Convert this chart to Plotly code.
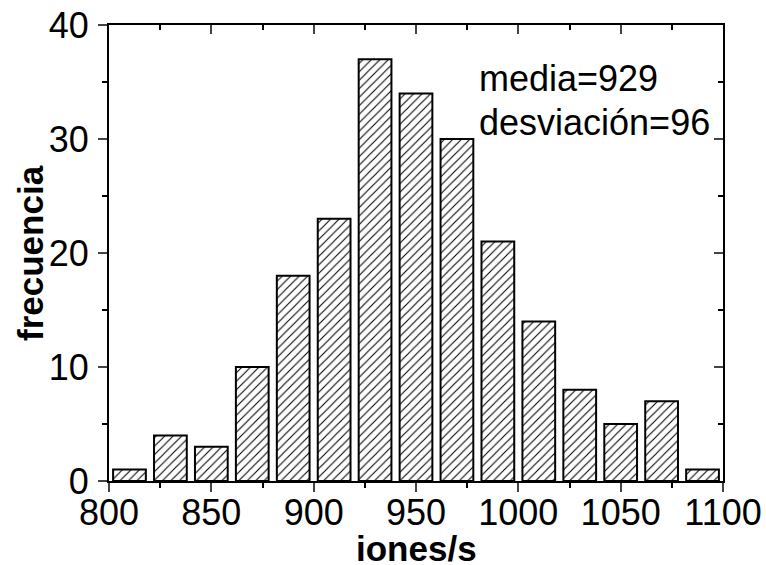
import plotly.graph_objects as go

bin_centers = [810, 830, 850, 870, 890, 910, 930, 950, 970, 990, 1010, 1030, 1050, 1070, 1090]
frecuencia = [1, 4, 3, 10, 18, 23, 37, 34, 30, 21, 14, 8, 5, 7, 1]
x_ticks = [800, 850, 900, 950, 1000, 1050, 1100]
y_ticks = [0, 10, 20, 30, 40]

FONT = "Liberation Sans, Arial, sans-serif"

fig = go.Figure()
fig.add_trace(go.Bar(
    x=bin_centers, y=frecuencia, width=16,
    marker=dict(color="white", line=dict(color="black", width=2),
                pattern=dict(shape="/", fgcolor="black", bgcolor="white",
                             size=6, solidity=0.18, fillmode="replace")),
    showlegend=False, hoverinfo="skip"))
fig.add_trace(go.Scatter(x=[], y=[], xaxis="x2", yaxis="y2", showlegend=False))

common = dict(showline=True, linewidth=2, linecolor="black", showgrid=False, zeroline=False,
              automargin=False, ticklen=9, tickwidth=2)

fig.update_layout(
    width=766, height=565,
    margin=dict(l=109, r=43, t=25, b=84),
    paper_bgcolor="white", plot_bgcolor="white",
    font=dict(family=FONT, color="black"),
    xaxis=dict(range=[800, 1100], tickvals=x_ticks, ticks="outside",
               tickfont=dict(size=36, family=FONT), ticklabelstandoff=-10,
               minor=dict(dtick=25, tick0=800, ticks="outside", ticklen=5, tickwidth=2, tickcolor="black"),
               **common),
    yaxis=dict(range=[0, 40], tickvals=y_ticks, ticks="outside",
               tickfont=dict(size=36, family=FONT), ticklabelstandoff=2,
               minor=dict(dtick=5, tick0=0, ticks="outside", ticklen=5, tickwidth=2, tickcolor="black"),
               **common),
    xaxis2=dict(range=[800, 1100], overlaying="x", side="top", showticklabels=False,
                tickvals=x_ticks, ticks="inside",
                minor=dict(dtick=25, tick0=800, ticks="inside", ticklen=5, tickwidth=2, tickcolor="black"),
                **common),
    yaxis2=dict(range=[0, 40], overlaying="y", side="right", showticklabels=False,
                tickvals=y_ticks, ticks="inside",
                minor=dict(dtick=5, tick0=0, ticks="inside", ticklen=5, tickwidth=2, tickcolor="black"),
                **common),
    annotations=[
        dict(x=980, y=35.35, xref="x", yref="y", text="media=929", showarrow=False,
             xanchor="left", yanchor="middle", font=dict(size=36, family=FONT)),
        dict(x=980, y=31.45, xref="x", yref="y", text="desviación=96", showarrow=False,
             xanchor="left", yanchor="middle", font=dict(size=36, family=FONT)),
        dict(x=0.5, y=-0.149, xref="paper", yref="paper", text="<b>iones/s</b>", showarrow=False,
             xanchor="center", yanchor="middle", font=dict(size=35, family=FONT)),
        dict(x=-0.1287, y=0.5, xref="paper", yref="paper", text="<b>frecuencia</b>", showarrow=False,
             textangle=-90, xanchor="center", yanchor="middle", font=dict(size=35, family=FONT)),
    ],
)

fig.write_html("out.html")
